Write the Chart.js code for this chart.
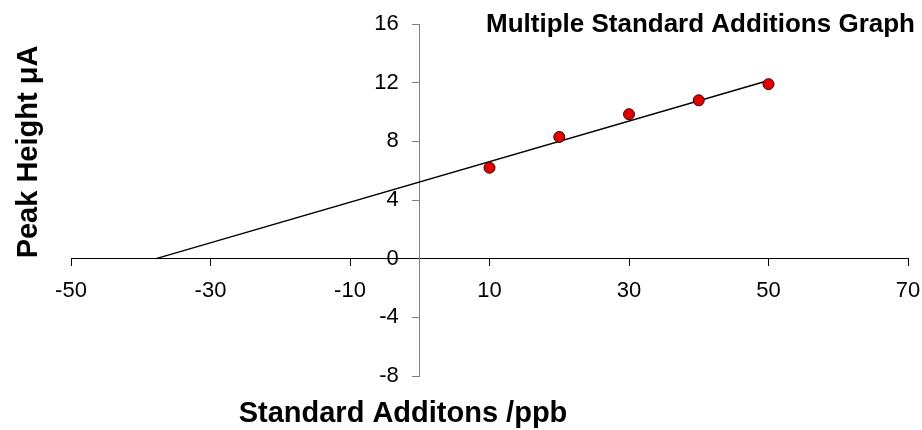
<!DOCTYPE html>
<html>
<head>
<meta charset="utf-8">
<script src="https://cdn.jsdelivr.net/npm/chart.js@4/dist/chart.umd.min.js"></script>
<style>
html,body{margin:0;padding:0;background:#fff;}
#wrap{width:922px;height:430px;position:relative;}
</style>
</head>
<body>
<div id="wrap"><canvas id="c" width="922" height="430"></canvas></div>
<script>
// ---- data ----
const standardAdditions = [10, 20, 30, 40, 50];
const peakHeights = [6.2, 8.3, 9.85, 10.8, 11.9];
const trendX = [-37.8, 50];
const trendY = [0, 12.15];
const xTicks = [-50, -30, -10, 10, 30, 50, 70];
const yTicks = [-8, -4, 0, 4, 8, 12, 16];
const chartTitle = 'Multiple Standard Additions Graph';
const xTitle = 'Standard Additons /ppb';
const yTitle = 'Peak Height \u03BCA';

const FONT = '"Liberation Sans", Arial, Helvetica, sans-serif';

const textPlugin = {
  id: 'texts',
  afterDraw(chart) {
    const ctx = chart.ctx;
    ctx.save();
    ctx.fillStyle = '#000';
    ctx.textBaseline = 'alphabetic';
    ctx.font = 'bold 26px ' + FONT;
    ctx.textAlign = 'right';
    ctx.fillText(chartTitle, 915, 32);
    ctx.font = 'bold 29px ' + FONT;
    ctx.textAlign = 'center';
    ctx.fillText(xTitle, 403, 422);
    ctx.font = 'bold 29px ' + FONT;
    ctx.translate(37, 152);
    ctx.rotate(-Math.PI / 2);
    ctx.fillText(yTitle, 0, 0);
    ctx.restore();
  }
};

// y labels of an axis placed at x=0 sit flush on the axis in Chart.js; move them left of the tick marks
const yLabelGap = {
  id: 'yLabelGap',
  beforeDraw(chart) {
    const s = chart.scales.y;
    const items = s.getLabelItems();
    if (!items._shifted) {
      items.forEach(it => { it.options.translation[0] -= 21; });
      items._shifted = true;
    }
  }
};

new Chart(document.getElementById('c'), {
  type: 'scatter',
  data: {
    datasets: [
      {
        label: 'data',
        data: standardAdditions.map((x, i) => ({ x: x, y: peakHeights[i] })),
        backgroundColor: '#e00000',
        borderColor: '#3a0000',
        borderWidth: 1,
        pointRadius: 5.5,
        order: 0
      },
      {
        label: 'trend',
        type: 'line',
        data: trendX.map((x, i) => ({ x: x, y: trendY[i] })),
        borderColor: '#000',
        borderWidth: 1.4,
        pointRadius: 0,
        fill: false,
        showLine: true,
        order: 1
      }
    ]
  },
  options: {
    responsive: false,
    animation: false,
    layout: { padding: { left: 71, right: 14, top: 24, bottom: 54 } },
    plugins: { legend: { display: false }, tooltip: { enabled: false }, title: { display: false } },
    scales: {
      x: {
        type: 'linear',
        min: -50, max: 70,
        position: { y: 0 },
        afterBuildTicks: s => { s.ticks = xTicks.map(v => ({ value: v })); },
        afterFit: s => { s.paddingLeft = 0; s.paddingRight = 0; },
        grid: { display: true, drawOnChartArea: false, drawTicks: true, tickLength: 7, tickColor: '#000', tickWidth: 1 },
        border: { display: true, color: '#000', width: 1 },
        ticks: { color: '#000', font: { family: FONT, size: 22 }, padding: 12, autoSkip: false, maxRotation: 0 }
      },
      y: {
        type: 'linear',
        min: -8, max: 16,
        position: { x: 0 },
        afterBuildTicks: s => { s.ticks = yTicks.map(v => ({ value: v })); },
        afterFit: s => { s.paddingTop = 0; s.paddingBottom = 0; },
        grid: { display: true, drawOnChartArea: false, drawTicks: true, tickLength: 7, tickColor: '#808080', tickWidth: 1 },
        border: { display: true, color: '#808080', width: 1 },
        ticks: { color: '#000', font: { family: FONT, size: 22 }, padding: 14, autoSkip: false }
      }
    }
  },
  plugins: [textPlugin, yLabelGap]
});
</script>
</body>
</html>
